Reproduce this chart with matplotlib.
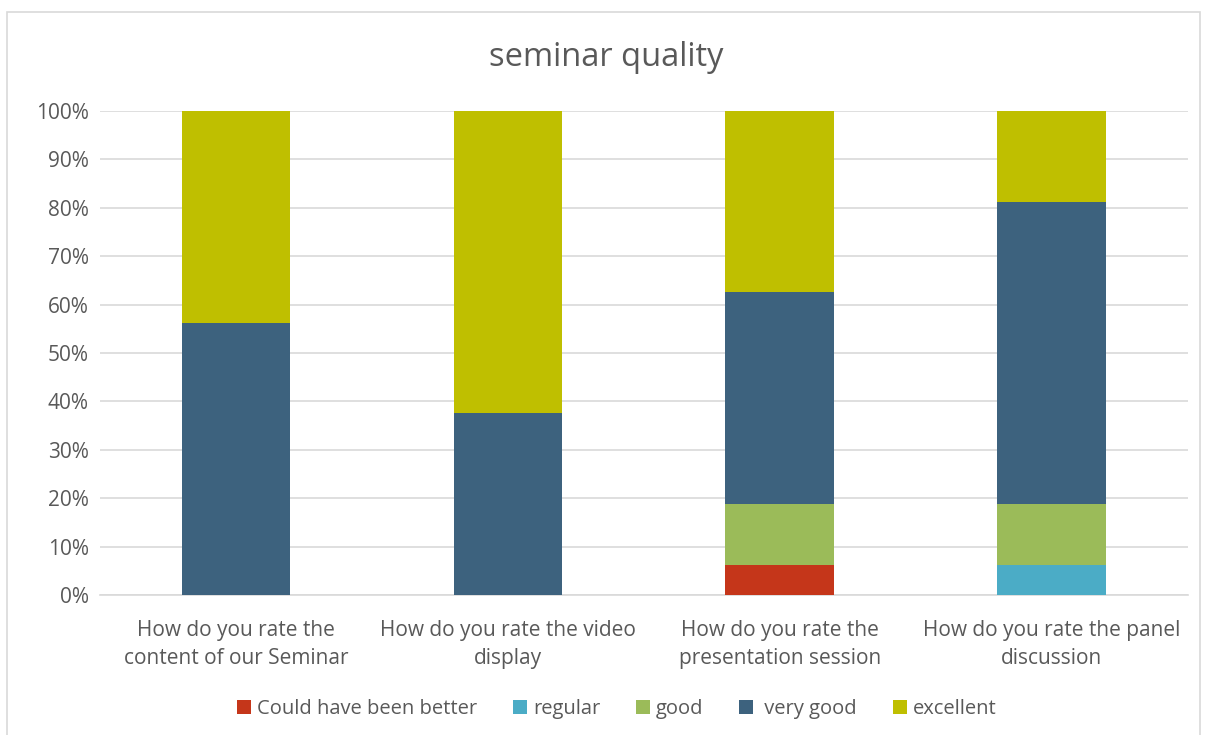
import matplotlib.pyplot as plt
import matplotlib.patches as mpatches
import numpy as np

plt.rcParams['font.family'] = ['Open Sans', 'DejaVu Sans']

# Data (share of respondents, %)
categories = ["How do you rate the\ncontent of our Seminar",
              "How do you rate the video\ndisplay",
              "How do you rate the\npresentation session",
              "How do you rate the panel\ndiscussion"]
series_names = ["Could have been better", "regular", "good", " very good", "excellent"]
could_have_been_better = [0, 0, 6.25, 0]
regular = [0, 0, 0, 6.25]
good = [0, 0, 12.5, 12.5]
very_good = [56.25, 37.5, 43.75, 62.5]
excellent = [43.75, 62.5, 37.5, 18.75]
colors = ['#C5361A', '#4BACC6', '#9BBB59', '#3D627E', '#BFBF00']

fig = plt.figure(figsize=(12.12, 7.35), dpi=100)
ax = fig.add_axes([0.0825, 0.1905, 0.8975, 0.6585])

# Chart frame
fig.patches.append(mpatches.Rectangle((7 / 1212, -0.01), 1193 / 1212, 1 - 12 / 735 + 0.01,
                                      transform=fig.transFigure, fill=False,
                                      edgecolor='#D9D9D9', linewidth=1.2))

x = np.arange(len(categories))
bottom = np.zeros(len(categories))
for name, vals, c in zip(series_names,
                         [could_have_been_better, regular, good, very_good, excellent],
                         colors):
    ax.bar(x, vals, width=0.4, bottom=bottom, color=c, label=name, zorder=3)
    bottom += np.array(vals)

ax.set_xlim(-0.5, 3.5)
ax.set_ylim(0, 100)
ax.set_yticks(np.arange(0, 101, 10))
ax.set_yticklabels([f"{v}%" for v in range(0, 101, 10)])
ax.set_xticks(x)
ax.set_xticklabels(categories, linespacing=1.45)
ax.grid(axis='y', color='#D9D9D9', linewidth=1.2, zorder=0)
for s in ax.spines.values():
    s.set_visible(False)
ax.spines['bottom'].set_visible(True)
ax.spines['bottom'].set_color('#D9D9D9')
ax.spines['bottom'].set_linewidth(1.2)
ax.tick_params(axis='both', length=0, labelsize=15, colors='#595959', pad=8)
ax.tick_params(axis='x', pad=18)

fig.text(0.5, 1 - 57 / 735, "seminar quality", ha='center', va='center',
         fontsize=23.5, color='#595959')

ax.legend(loc='center', bbox_to_anchor=(0.5 - 0.025, -0.235),
          ncol=5, frameon=False, fontsize=14.5, handlelength=0.7, handleheight=0.7,
          handletextpad=0.3, columnspacing=1.77, labelcolor='#595959')

fig.savefig('out.png', dpi=100)
